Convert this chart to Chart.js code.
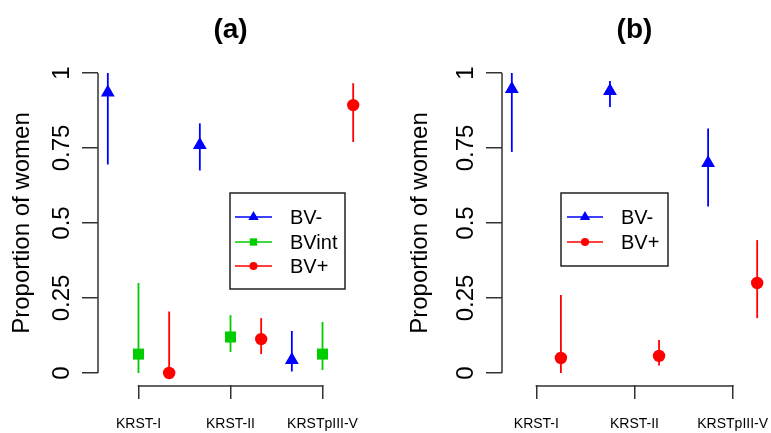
<!DOCTYPE html>
<html>
<head>
<meta charset="utf-8">
<script src="https://cdn.jsdelivr.net/npm/chart.js@4.4.1/dist/chart.umd.min.js"></script>
<style>
  html, body { margin: 0; padding: 0; background: #fff; overflow: hidden; }
  #wrap { position: relative; width: 771px; height: 433px; }
  canvas { position: absolute; top: 0; }
  #chartA { left: 0; }
  #chartB { left: 385px; }
</style>
</head>
<body>
<div id="wrap">
  <canvas id="chartA" width="385" height="433"></canvas>
  <canvas id="chartB" width="386" height="433"></canvas>
</div>
<script>
const categories = ["KRST-I", "KRST-II", "KRSTpIII-V"];
const yTicks = [0, 0.25, 0.5, 0.75, 1];
const yTickLabels = ["0", "0.25", "0.5", "0.75", "1"];

// panel (a)
const aMinus   = [0.935, 0.76, 0.043];
const aMinusLo = [0.695, 0.675, 0.005];
const aMinusHi = [1.0, 0.832, 0.14];
const aInt     = [0.063, 0.12, 0.063];
const aIntLo   = [0.0, 0.07, 0.01];
const aIntHi   = [0.30, 0.193, 0.17];
const aPlus    = [0.0, 0.113, 0.893];
const aPlusLo  = [0.0, 0.063, 0.77];
const aPlusHi  = [0.205, 0.183, 0.966];

// panel (b)
const bMinus   = [0.947, 0.94, 0.70];
const bMinusLo = [0.737, 0.887, 0.555];
const bMinusHi = [1.0, 0.973, 0.815];
const bPlus    = [0.05, 0.057, 0.30];
const bPlusLo  = [0.0, 0.025, 0.183];
const bPlusHi  = [0.26, 0.11, 0.443];

const FONT = "'Liberation Sans', Arial, sans-serif";
const AXIS_COLOR = "#333";
const BLUE = "#0000ff", GREEN = "#00cd00", RED = "#ff0000";

// vertical CI lines behind the points
const errorBars = {
  id: "errorBars",
  beforeDatasetsDraw(chart) {
    const ctx = chart.ctx;
    const y = chart.scales.y;
    chart.data.datasets.forEach((ds, i) => {
      chart.getDatasetMeta(i).data.forEach((pt, j) => {
        ctx.save();
        ctx.strokeStyle = ds.borderColor;
        ctx.lineWidth = 1.8;
        ctx.beginPath();
        ctx.moveTo(pt.x, y.getPixelForValue(ds.errLo[j]));
        ctx.lineTo(pt.x, y.getPixelForValue(ds.errHi[j]));
        ctx.stroke();
        ctx.restore();
      });
    });
  }
};

// R-style axis lines that only span the ticks, plus panel title and legend box
const rDecor = {
  id: "rDecor",
  afterDraw(chart, args, opts) {
    const ctx = chart.ctx;
    const x = chart.scales.x, y = chart.scales.y;
    const area = chart.chartArea;
    ctx.save();
    ctx.strokeStyle = AXIS_COLOR;
    ctx.lineWidth = 1.5;
    ctx.beginPath();
    ctx.moveTo(area.left, y.getPixelForValue(yTicks[0]));
    ctx.lineTo(area.left, y.getPixelForValue(yTicks[yTicks.length - 1]));
    const xt = x.ticks;
    ctx.moveTo(x.getPixelForValue(xt[0].value) - 0.75, area.bottom + 1);
    ctx.lineTo(x.getPixelForValue(xt[xt.length - 1].value) + 0.75, area.bottom + 1);
    ctx.stroke();

    ctx.fillStyle = "#000";
    ctx.font = "bold 28px " + FONT;
    ctx.textAlign = "center";
    ctx.textBaseline = "middle";
    ctx.fillText(opts.title, (area.left + area.right) / 2, 30);

    const lg = opts.legend;
    ctx.strokeStyle = "#222";
    ctx.lineWidth = 1.5;
    ctx.strokeRect(lg.left, lg.top, lg.right - lg.left, lg.bottom - lg.top);
    ctx.font = "20px " + FONT;
    ctx.textAlign = "left";
    chart.data.datasets.forEach((ds, i) => {
      const ry = lg.rows[i];
      ctx.strokeStyle = ds.borderColor;
      ctx.fillStyle = ds.backgroundColor;
      ctx.lineWidth = 1.5;
      ctx.beginPath();
      ctx.moveTo(lg.lineFrom, ry);
      ctx.lineTo(lg.lineTo, ry);
      ctx.stroke();
      Chart.helpers.drawPoint(ctx, {
        pointStyle: ds.pointStyle, radius: ds.legendRadius, rotation: 0, borderWidth: 0
      }, (lg.lineFrom + lg.lineTo) / 2, ry);
      ctx.fillStyle = "#000";
      ctx.fillText(ds.label, lg.textX, ry + 1);
    });
    ctx.restore();
  }
};

function makePanel(canvasId, title, series, geom) {
  const n = series.length;
  const last = categories.length * n;
  const pad = 0.04 * (last - 1);
  const datasets = series.map((s, j) => ({
    label: s.label,
    data: s.values.map((v, i) => ({ x: i * n + j + 1, y: v })),
    errLo: s.lo,
    errHi: s.hi,
    borderColor: s.color,
    backgroundColor: s.color,
    pointStyle: s.style,
    pointRadius: s.radius,
    legendRadius: s.legendRadius,
    pointBorderWidth: 0,
    showLine: false
  }));

  return new Chart(document.getElementById(canvasId), {
    type: "scatter",
    data: { datasets },
    plugins: [errorBars, rDecor],
    options: {
      responsive: false,
      animation: false,
      layout: {
        autoPadding: false,
        padding: { left: 0, right: geom.padRight, top: 61, bottom: 0 }
      },
      plugins: {
        legend: { display: false },
        tooltip: { enabled: false },
        rDecor: { title, legend: geom.legend }
      },
      scales: {
        x: {
          type: "linear",
          min: 1 - pad,
          max: last + pad,
          afterBuildTicks: sc => {
            sc.ticks = categories.map((c, i) => ({ value: i * n + (n + 1) / 2 }));
          },
          afterFit: sc => {
            sc.height = 48;
            sc.paddingLeft = 0;
            sc.paddingRight = 0;
          },
          border: { display: false },
          grid: {
            drawOnChartArea: false, drawTicks: true, tickLength: 14,
            color: AXIS_COLOR, lineWidth: 1.5
          },
          ticks: {
            autoSkip: false, maxRotation: 0, padding: 17,
            color: "#000", font: { family: FONT, size: 14 },
            callback: (v, i) => categories[i]
          }
        },
        y: {
          min: -0.04,
          max: 1.04,
          afterBuildTicks: sc => { sc.ticks = yTicks.map(v => ({ value: v })); },
          afterFit: sc => {
            sc.width = geom.axisLeft;
            sc.paddingTop = 0;
            sc.paddingBottom = 0;
          },
          border: { display: false },
          grid: {
            drawOnChartArea: false, drawTicks: true, tickLength: 16,
            color: AXIS_COLOR, lineWidth: 1.5
          },
          ticks: {
            minRotation: 90, maxRotation: 90, crossAlign: "center", padding: -4,
            color: "#000", font: { family: FONT, size: 24 },
            callback: (v, i) => yTickLabels[i]
          },
          title: {
            display: true, text: "Proportion of women", color: "#000",
            font: { family: FONT, size: 24 }, padding: { top: geom.titlePad, bottom: 0 }
          }
        }
      }
    }
  });
}

makePanel("chartA", "(a)", [
  { label: "BV-", values: aMinus, lo: aMinusLo, hi: aMinusHi, color: BLUE, style: "triangle", radius: 8, legendRadius: 6 },
  { label: "BVint", values: aInt, lo: aIntLo, hi: aIntHi, color: GREEN, style: "rect", radius: 7.8, legendRadius: 5.2 },
  { label: "BV+", values: aPlus, lo: aPlusLo, hi: aPlusHi, color: RED, style: "circle", radius: 6.2, legendRadius: 4 }
], {
  axisLeft: 98, padRight: 22, titlePad: 8,
  legend: { left: 230, top: 193, right: 345, bottom: 289, rows: [217, 242, 266], lineFrom: 235, lineTo: 272, textX: 290 }
});

makePanel("chartB", "(b)", [
  { label: "BV-", values: bMinus, lo: bMinusLo, hi: bMinusHi, color: BLUE, style: "triangle", radius: 8, legendRadius: 6 },
  { label: "BV+", values: bPlus, lo: bPlusLo, hi: bPlusHi, color: RED, style: "circle", radius: 6.2, legendRadius: 4 }
], {
  axisLeft: 117, padRight: 4, titlePad: 21,
  legend: { left: 176, top: 193, right: 283, bottom: 266, rows: [217, 242], lineFrom: 182, lineTo: 218, textX: 236 }
});
</script>
</body>
</html>
